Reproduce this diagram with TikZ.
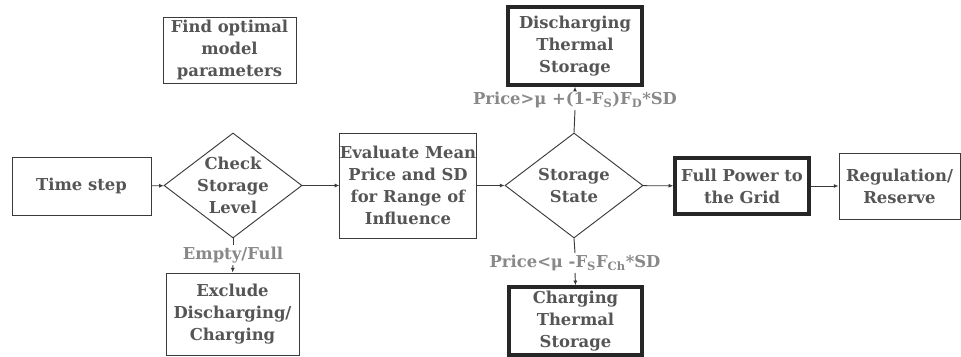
\documentclass[tikz,border=0pt]{standalone}
\usepackage{fontspec}
\setmainfont{DejaVu Serif}
\usepackage{tikz}
\usetikzlibrary{shapes.geometric,arrows.meta}

\definecolor{boxtext}{HTML}{555555}
\definecolor{condtext}{HTML}{888888}
\definecolor{edge}{HTML}{3A3A3A}

\tikzset{
    every node/.style={font=\bfseries\fontsize{14}{18.8}\selectfont, text=boxtext},
    stepbox/.style={draw=edge, line width=0.8pt, rectangle, align=center, inner sep=0pt},
    bigbox/.style={draw=black!85, line width=3pt, rectangle, align=center, inner sep=0pt},
    decision/.style={draw=edge, line width=0.8pt, diamond, inner sep=0pt},
    cond/.style={text=condtext, inner sep=1.5pt},
    flow/.style={draw=edge, line width=0.8pt, -{Latex[length=4pt,width=3.5pt]}},
    plain/.style={draw=edge, line width=0.8pt}
}

\begin{document}
\begin{tikzpicture}[x=0.03cm, y=0.03cm]
    \useasboundingbox (0,0) rectangle (961,356);

    % Main row
    \node[stepbox, minimum width=139*0.03cm, minimum height=58*0.03cm] (timestep) at (81.5,170) {Time step};
    \node[decision, minimum width=138*0.03cm, minimum height=105*0.03cm,
          label={[align=center, inner sep=0pt]center:Check\\Storage\\Level}] (check) at (233,170.5) {};
    \node[stepbox, minimum width=134*0.03cm, minimum height=105*0.03cm] (evaluate) at (408,170.5)
        {Evaluate Mean\\Price and SD\\for Range of\\Influence};
    \node[decision, minimum width=138*0.03cm, minimum height=105*0.03cm,
          label={[align=center, inner sep=0pt]center:Storage\\State}] (storage) at (574,170.5) {};
    \node[bigbox, minimum width=134*0.03cm, minimum height=56*0.03cm] (grid) at (742,170) {Full Power to\\the Grid};
    \node[stepbox, minimum width=121*0.03cm, minimum height=66*0.03cm] (reserve) at (899.5,170) {Regulation/\\Reserve};

    % Boxes above and below
    \node[stepbox, minimum width=133*0.03cm, minimum height=66*0.03cm] (optimal) at (229.5,306) {Find optimal\\model\\parameters};
    \node[stepbox, minimum width=133*0.03cm, minimum height=82*0.03cm] (exclude) at (232.5,42) {Exclude\\Discharging/\\Charging};
    \node[bigbox, minimum width=134*0.03cm, minimum height=78*0.03cm] (discharge) at (575,310) {Discharging\\Thermal\\Storage};
    \node[bigbox, minimum width=133*0.03cm, minimum height=68*0.03cm] (charge) at (575.5,35) {Charging\\Thermal\\Storage};

    % Conditions on the vertical branches
    \node[cond] (emptyfull) at (233,101) {Empty/Full};
    \node[cond] (pricehi) at (575,256) {Price>μ +(1-F\textsubscript{S})F\textsubscript{D}*SD};
    \node[cond] (pricelo) at (575,93) {Price<μ -F\textsubscript{S}F\textsubscript{Ch}*SD};

    % Connectors
    \draw[flow] (timestep) -- (check);
    \draw[flow] (check) -- (evaluate);
    \draw[flow] (evaluate) -- (storage);
    \draw[flow] (storage) -- (grid);
    \draw[flow] (grid) -- (reserve);
    \draw[plain] (check.south) -- (emptyfull.north);
    \draw[flow] (emptyfull.south) -- (exclude.north);
    \draw[plain] (storage.north) -- (pricehi.south);
    \draw[flow] (pricehi.north) -- (discharge.south);
    \draw[plain] (storage.south) -- (pricelo.north);
    \draw[flow] (pricelo.south) -- (charge.north);
\end{tikzpicture}
\end{document}
